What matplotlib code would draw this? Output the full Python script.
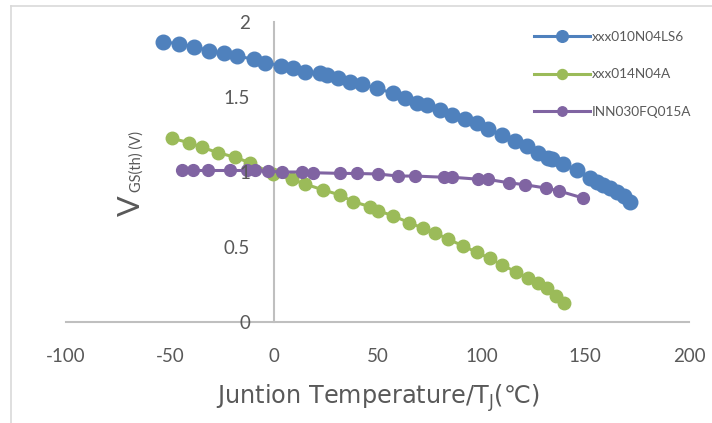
import matplotlib
matplotlib.use("Agg")
import matplotlib.pyplot as plt
from matplotlib.lines import Line2D

plt.rcParams['font.family'] = ['Lato', 'DejaVu Sans']
plt.rcParams['axes.unicode_minus'] = False
plt.rcParams['mathtext.fontset'] = 'custom'
plt.rcParams['mathtext.rm'] = 'Noto Sans CJK SC'

colors = {
    'blue': '#4f81bd',
    'green': '#9bbb59',
    'purple': '#8064a2',
    'axis': '#bfbfbf',
    'text': '#595959',
    'frame': '#d9d9d9',
}

# xxx010N04LS6
t_blue = [-53.2, -45.4, -38.2, -31.0, -23.9, -17.5, -9.5, -4.2, 3.5, 9.4, 15.1, 22.3,
          25.5, 31.1, 36.7, 42.4, 49.6, 57.6, 63.2, 68.8, 73.7, 80.1, 85.7, 92.1,
          97.7, 103.3, 109.8, 116.2, 121.8, 127.4, 132.2, 133.8, 139.4, 145.9,
          152.3, 155.5, 158.7, 162.0, 165.1, 168.5, 171.5]
v_blue = [1.869, 1.853, 1.835, 1.809, 1.791, 1.773, 1.751, 1.729, 1.709, 1.691, 1.669, 1.658,
          1.647, 1.625, 1.602, 1.587, 1.558, 1.525, 1.491, 1.462, 1.447, 1.413, 1.380, 1.351,
          1.325, 1.285, 1.247, 1.209, 1.173, 1.125, 1.090, 1.085, 1.053, 1.013,
          0.958, 0.935, 0.913, 0.891, 0.869, 0.838, 0.802]

# xxx014N04A
t_green = [-49.1, -40.6, -34.7, -26.7, -18.6, -11.4, -0.2, 8.7, 15.1, 23.9, 31.9, 38.3,
           46.4, 50.4, 57.6, 65.3, 72.0, 77.7, 84.1, 91.0, 97.7, 104.1, 109.8, 116.7,
           122.3, 127.4, 131.4, 135.9, 139.9]
v_green = [1.225, 1.195, 1.165, 1.129, 1.098, 1.062, 0.985, 0.951, 0.920, 0.880, 0.847, 0.802,
           0.769, 0.742, 0.707, 0.662, 0.625, 0.595, 0.551, 0.509, 0.465, 0.425, 0.380, 0.335,
           0.295, 0.258, 0.229, 0.175, 0.125]

# INN030FQ015A
t_purple = [-44.0, -39.0, -31.5, -21.0, -13.0, -9.0, -2.6, 3.9, 13.5, 19.1, 31.9, 40.0,
            50.0, 60.0, 68.0, 82.0, 86.0, 98.5, 103.3, 113.4, 121.0, 131.1, 137.5, 149.1]
v_purple = [1.010, 1.010, 1.010, 1.010, 1.010, 1.010, 1.005, 1.000, 1.000, 0.995, 0.991, 0.990,
            0.987, 0.973, 0.973, 0.965, 0.965, 0.952, 0.950, 0.928, 0.915, 0.893, 0.873, 0.826]

x_ticks = [-100, -50, 0, 50, 100, 150, 200]
y_ticks = [0, 0.5, 1, 1.5, 2]
y_tick_labels = ['0', '0.5', '1', '1.5', '2']

W, H = 712, 423
fig = plt.figure(figsize=(W / 100, H / 100), dpi=100, facecolor='white')
ax = fig.add_axes([66 / W, 1 - 322 / H, 623 / W, 300 / H])

ax.plot(t_blue, v_blue, color=colors['blue'], lw=2.2, marker='o', ms=10.5,
        label='xxx010N04LS6', zorder=3)
ax.plot(t_green, v_green, color=colors['green'], lw=2.2, marker='o', ms=9,
        label='xxx014N04A', zorder=4)
ax.plot(t_purple, v_purple, color=colors['purple'], lw=2.2, marker='o', ms=8.5,
        label='INN030FQ015A', zorder=5)

ax.set_xlim(-100, 200)
ax.set_ylim(0, 2)
ax.set_xticks(x_ticks)
ax.set_yticks(y_ticks)
ax.set_yticklabels(y_tick_labels)

# axes cross at the origin like the Excel original
ax.spines['left'].set_position(('data', 0))
ax.spines['bottom'].set_position(('data', 0))
ax.spines['right'].set_visible(False)
ax.spines['top'].set_visible(False)
for s in ('left', 'bottom'):
    ax.spines[s].set_color(colors['axis'])
    ax.spines[s].set_linewidth(1.5)
    ax.spines[s].set_zorder(1)
ax.tick_params(length=0, labelsize=13.5, colors=colors['text'])
ax.tick_params(axis='x', pad=19)
ax.tick_params(axis='y', pad=17)
ax.yaxis.set_zorder(10)

# y label: big V with subscript and unit
fig.text(130.5 / W, 1 - 206 / H, 'V', rotation=90, fontsize=22,
         color=colors['text'], ha='center', va='center')
fig.text(137 / W, 1 - 161 / H, 'GS(th) (V)', rotation=90, fontsize=10.5,
         color=colors['text'], ha='center', va='center')

fig.text(378 / W, 1 - 398 / H, r'$\mathrm{Juntion\ Temperature/T_J(℃)}$', fontsize=17.3,
         color=colors['text'], ha='center', va='center')

fig.legend(loc='upper left', bbox_to_anchor=(522 / W, 1 - 19 / H), frameon=False,
           fontsize=9.8, labelcolor=colors['text'], handlelength=4.1, handletextpad=0.1,
           labelspacing=1.85, markerscale=0.8)

# partial chart-area frame
fig.add_artist(Line2D([11 / W, 11 / W], [0, 1 - 6 / H], color=colors['frame'], lw=1.2))
fig.add_artist(Line2D([11 / W, 1], [1 - 6 / H, 1 - 6 / H], color=colors['frame'], lw=1.2))

fig.savefig('out.png', dpi=100)
